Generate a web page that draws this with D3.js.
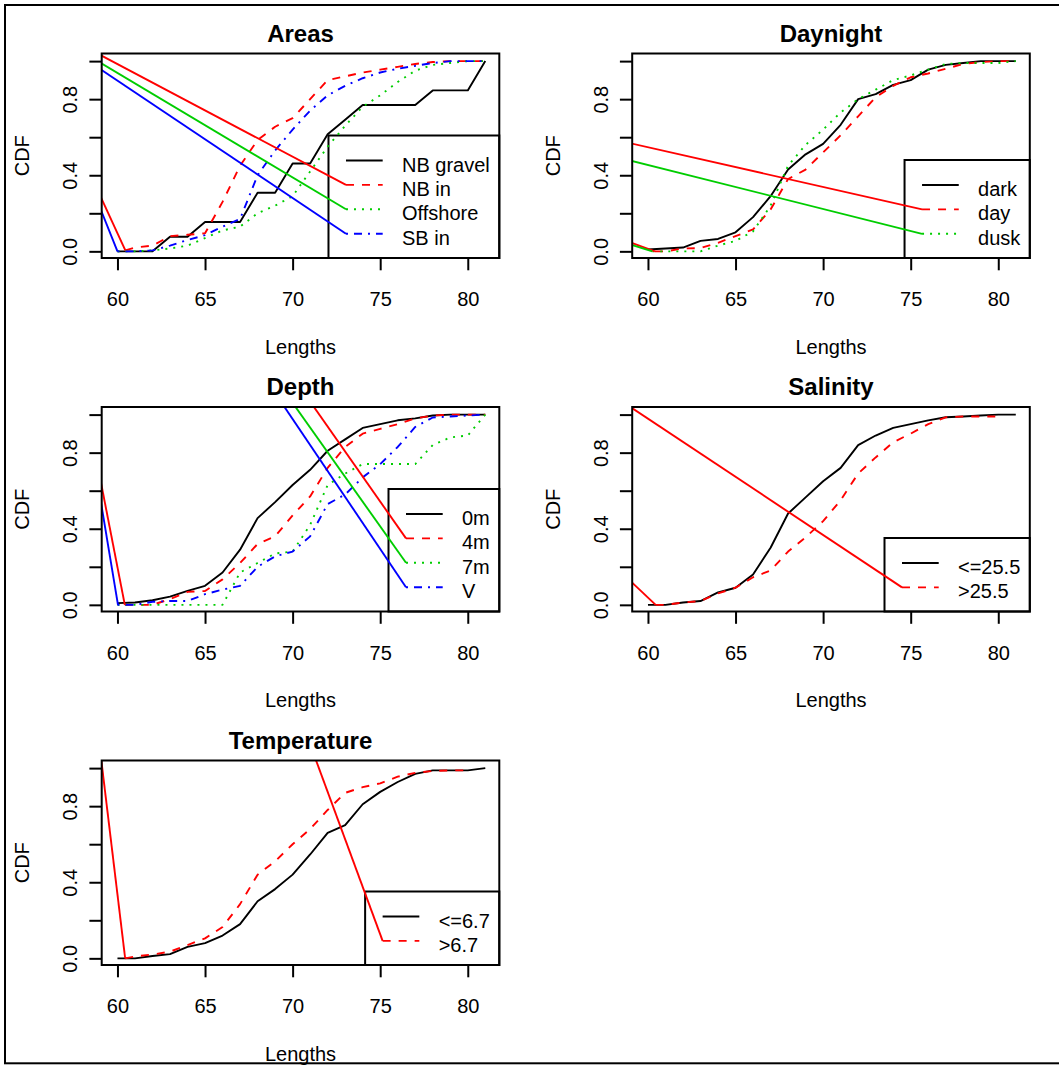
<!DOCTYPE html>
<html>
<head>
<meta charset="utf-8">
<script src="https://cdn.jsdelivr.net/npm/d3@7"></script>
<style>
  body { margin: 0; background: #fff; }
  svg { display: block; font-family: "Liberation Sans", Arial, Helvetica, sans-serif; }
</style>
</head>
<body>
<svg id="chart" width="1059" height="1068"></svg>
<script>
// lengths at which every CDF is evaluated
var lengths = [60, 61, 62, 63, 64, 65, 66, 67, 68, 69, 70, 71, 72, 73, 74, 75, 76, 77, 78, 79, 80, 81];
var xTicks = [60, 65, 70, 75, 80];
var xTickLabels = ["60", "65", "70", "75", "80"];
var yTicks = [0, 0.2, 0.4, 0.6, 0.8, 1];
var yTickLabels = ["0.0", "", "0.4", "", "0.8", ""];

// Areas
var areasNames = ["NB gravel", "NB in", "Offshore", "SB in"];
var areasNBgravel = [0, 0, 0, 0.077, 0.077, 0.154, 0.154, 0.154, 0.308, 0.308, 0.462, 0.462, 0.615, 0.692, 0.769, 0.769, 0.769, 0.769, 0.846, 0.846, 0.846, 1.0];
var areasNBin = [null, 0.02, 0.03, 0.08, 0.087, 0.095, 0.26, 0.45, 0.585, 0.655, 0.70, 0.80, 0.90, 0.92, 0.94, 0.955, 0.97, 0.985, 0.995, 1.0, 1.0, 1.0];
var areasOffshore = [0, 0, 0.005, 0.015, 0.03, 0.07, 0.11, 0.13, 0.2, 0.24, 0.29, 0.42, 0.55, 0.66, 0.76, 0.82, 0.89, 0.95, 0.98, 0.99, 1.0, 1.0];
var areasSBin = [0, 0, 0.005, 0.03, 0.06, 0.085, 0.13, 0.17, 0.4, 0.53, 0.64, 0.74, 0.82, 0.87, 0.91, 0.94, 0.96, 0.975, 0.99, 1.0, 1.0, 1.0];
var areasStarts = [null, [60.45, 0.005], null, null];

// Daynight
var daynightNames = ["dark", "day", "dusk"];
var daynightDark = [0.01, 0.015, 0.02, 0.055, 0.065, 0.1, 0.18, 0.29, 0.43, 0.51, 0.565, 0.665, 0.8, 0.826, 0.875, 0.9, 0.955, 0.98, 0.99, 1.0, 1.0, 1.0];
var daynightDay = [null, 0, 0.015, 0.017, 0.045, 0.08, 0.115, 0.22, 0.38, 0.43, 0.52, 0.61, 0.71, 0.81, 0.87, 0.915, 0.935, 0.96, 0.985, 0.995, 1.0, 1.0];
var daynightDusk = [null, 0, 0, 0, 0.03, 0.055, 0.105, 0.24, 0.45, 0.56, 0.64, 0.73, 0.8, 0.85, 0.9, 0.925, 0.955, 0.985, 0.99, 0.99, 0.99, 1.0];
var daynightStarts = [null, [60.4, 0], [60.25, 0]];

// Depth
var depthNames = ["0m", "4m", "7m", "V"];
var depth0m = [0.009, 0.012, 0.024, 0.043, 0.073, 0.1, 0.17, 0.29, 0.456, 0.54, 0.63, 0.71, 0.81, 0.87, 0.93, 0.95, 0.97, 0.98, 0.995, 1.0, 1.0, 1.0];
var depth4m = [null, 0, 0, 0.03, 0.068, 0.073, 0.134, 0.22, 0.32, 0.36, 0.47, 0.57, 0.72, 0.83, 0.9, 0.925, 0.95, 0.98, 0.995, 1.0, 1.0, 1.0];
var depth7m = [0, 0, 0, 0, 0, 0, 0, 0.17, 0.22, 0.27, 0.28, 0.42, 0.63, 0.69, 0.74, 0.74, 0.74, 0.74, 0.84, 0.88, 0.89, 1.0];
var depthV = [0, 0, 0.016, 0.02, 0.02, 0.056, 0.08, 0.1, 0.2, 0.255, 0.28, 0.36, 0.53, 0.58, 0.67, 0.74, 0.83, 0.935, 0.985, 0.99, 0.995, 1.0];
var depthStarts = [null, [60.42, 0], null, null];

// Salinity
var salinityNames = ["<=25.5", ">25.5"];
var salinityLow = [0, 0, 0.012, 0.02, 0.065, 0.09, 0.16, 0.3, 0.48, 0.565, 0.65, 0.72, 0.84, 0.89, 0.93, 0.95, 0.97, 0.986, 0.99, 0.995, 1.0, 1.0];
var salinityHigh = [null, 0, 0.012, 0.02, 0.06, 0.09, 0.145, 0.18, 0.28, 0.355, 0.44, 0.55, 0.69, 0.775, 0.855, 0.9, 0.95, 0.986, 0.99, 0.99, 0.99, null];
var salinityStarts = [null, [60.44, 0]];

// Temperature
var temperatureNames = ["<=6.7", ">6.7"];
var temperatureLow = [0, 0, 0.012, 0.022, 0.06, 0.08, 0.12, 0.18, 0.3, 0.364, 0.44, 0.546, 0.66, 0.7, 0.81, 0.875, 0.927, 0.97, 0.988, 0.988, 0.988, 1.0];
var temperatureHigh = [null, 0.01, 0.02, 0.035, 0.07, 0.105, 0.165, 0.285, 0.44, 0.51, 0.6, 0.68, 0.78, 0.87, 0.9, 0.92, 0.955, 0.975, 0.985, 0.988, 0.988, null];
var temperatureStarts = [null, [60.44, 0]];

// stray straight segments left in the picture by the renderer:
// [series index, from point, to point]; "key" = the legend sample of that series
var areasStrays = [[1, [59.0, 1.033], "key"], [2, [59.0, 0.993], "key"], [3, [59.0, 0.959], "key"],
                   [1, [59.0, 0.295], [60.45, 0.005]], [3, [59.0, 0.23], [60.0, 0]]];
var daynightStrays = [[1, [59.0, 0.568], "key"], [2, [59.0, 0.477], "key"],
                      [1, [59.0, 0.047], [60.4, 0]], [2, [59.0, 0.036], [60.25, 0]]];
var depthStrays = [[1, [71.18, 1.045], "key"], [2, [70.13, 1.045], "key"], [3, [69.5, 1.045], "key"],
                   [1, [59.0, 0.67], [60.42, 0]], [3, [59.0, 0.57], [60.03, 0]]];
var salinityStrays = [[1, [59.0, 1.04], "key"], [1, [59.0, 0.125], [60.44, 0]]];
var temperatureStrays = [[1, [71.32, 1.045], "key"], [1, [59.0, 1.1], [60.44, 0]]];

var styles = [
  { color: "#000000", dash: null },
  { color: "#FF0000", dash: "8,8" },
  { color: "#00CD00", dash: "2,6" },
  { color: "#0000FF", dash: "2,6,8,6" }
];

var panels = [
  { title: "Areas", col: 0, row: 0, names: areasNames, starts: areasStarts,
    values: [areasNBgravel, areasNBin, areasOffshore, areasSBin], strays: areasStrays },
  { title: "Daynight", col: 1, row: 0, names: daynightNames, starts: daynightStarts,
    values: [daynightDark, daynightDay, daynightDusk], strays: daynightStrays },
  { title: "Depth", col: 0, row: 1, names: depthNames, starts: depthStarts,
    values: [depth0m, depth4m, depth7m, depthV], strays: depthStrays },
  { title: "Salinity", col: 1, row: 1, names: salinityNames, starts: salinityStarts,
    values: [salinityLow, salinityHigh], strays: salinityStrays },
  { title: "Temperature", col: 0, row: 2, names: temperatureNames, starts: temperatureStarts,
    values: [temperatureLow, temperatureHigh], strays: temperatureStrays }
];

var svg = d3.select("#chart");
var colLeft = [101.7, 632.2];
var rowTop = [53.5, 407, 760.5];
var boxW = 397.6, boxH = 204.5;
var xDomain = [59.1, 81.8], yDomain = [-0.035, 1.04];
var lineW = 1.9;
var rowStep = 24.4;

var line = d3.line();

panels.forEach(function(p, pi) {
  var left = colLeft[p.col], top = rowTop[p.row];
  var right = left + boxW, bottom = top + boxH;
  var x = d3.scaleLinear().domain(xDomain).range([left, right]);
  var y = d3.scaleLinear().domain(yDomain).range([bottom, top]);
  var g = svg.append("g");

  var clipId = "clip" + pi;
  svg.append("clipPath").attr("id", clipId)
    .append("rect").attr("x", left).attr("y", top).attr("width", boxW).attr("height", boxH);

  // legend first, so the stray lines can reach its keys
  var lg = g.append("g");
  var n = p.names.length;
  var legTop = bottom - (n + 1) * 24.5;
  var keyY = function(i) { return legTop + 25 + rowStep * i; };
  var texts = lg.selectAll("text.leg").data(p.names).enter().append("text")
    .attr("class", "leg")
    .attr("y", function(d, i) { return keyY(i) + 11; })
    .attr("font-size", 20)
    .text(function(d) { return d; });
  var maxW = 0;
  texts.each(function() { maxW = Math.max(maxW, this.getComputedTextLength()); });
  var legLeft = right - (83 + maxW);
  texts.attr("x", legLeft + 73.5);
  lg.append("rect")
    .attr("x", legLeft).attr("y", legTop)
    .attr("width", right - legLeft).attr("height", bottom - legTop)
    .attr("fill", "none").attr("stroke", "#000").attr("stroke-width", 2);
  var keyX = legLeft + 17.5;
  p.names.forEach(function(name, i) {
    lg.append("line")
      .attr("x1", keyX).attr("x2", keyX + 36.7)
      .attr("y1", keyY(i)).attr("y2", keyY(i))
      .attr("stroke", styles[i].color).attr("stroke-width", lineW)
      .attr("stroke-dasharray", styles[i].dash);
  });

  var plot = g.append("g").attr("clip-path", "url(#" + clipId + ")");

  // CDF curves
  p.values.forEach(function(vals, i) {
    var pts = lengths.map(function(l, k) { return [l, vals[k]]; });
    if (p.starts[i]) pts.unshift(p.starts[i]);
    pts = pts.filter(function(d) { return d[1] !== null; });
    plot.append("path")
      .attr("d", line(pts.map(function(d) { return [x(d[0]), y(d[1])]; })))
      .attr("fill", "none")
      .attr("stroke", styles[i].color).attr("stroke-width", lineW)
      .attr("stroke-linejoin", "round")
      .attr("stroke-dasharray", styles[i].dash);
  });

  // stray solid segments
  p.strays.forEach(function(s) {
    var i = s[0];
    var a = [x(s[1][0]), y(s[1][1])];
    var b = s[2] === "key" ? [keyX, keyY(i)] : [x(s[2][0]), y(s[2][1])];
    plot.append("path")
      .attr("d", line([a, b]))
      .attr("fill", "none")
      .attr("stroke", styles[i].color).attr("stroke-width", lineW);
  });

  // plot box
  g.append("rect")
    .attr("x", left).attr("y", top).attr("width", boxW).attr("height", boxH)
    .attr("fill", "none").attr("stroke", "#000").attr("stroke-width", 2);

  // x axis
  var xa = g.append("g").attr("transform", "translate(0," + bottom + ")")
    .call(d3.axisBottom(x).tickValues(xTicks).tickSize(12.3).tickSizeOuter(0)
      .tickFormat(function(d, i) { return xTickLabels[i]; }));
  xa.select(".domain").remove();
  xa.selectAll(".tick line").attr("stroke", "#000").attr("stroke-width", 2);
  xa.selectAll(".tick text").attr("font-size", 20).attr("font-family", null)
    .attr("fill", "#000").attr("y", 48).attr("dy", null);

  // y axis
  var ya = g.append("g").attr("transform", "translate(" + left + ",0)")
    .call(d3.axisLeft(y).tickValues(yTicks).tickSize(12.3).tickSizeOuter(0)
      .tickFormat(function(d, i) { return yTickLabels[i]; }));
  ya.select(".domain").remove();
  ya.selectAll(".tick line").attr("stroke", "#000").attr("stroke-width", 2);
  ya.selectAll(".tick text").attr("font-size", 20).attr("font-family", null)
    .attr("fill", "#000").attr("x", null).attr("dy", null)
    .attr("text-anchor", "middle")
    .attr("transform", "translate(-24.4,0) rotate(-90)");

  // titles
  g.append("text")
    .attr("x", (left + right) / 2).attr("y", top - 12)
    .attr("text-anchor", "middle").attr("font-size", 24).attr("font-weight", "bold")
    .text(p.title);
  g.append("text")
    .attr("x", (left + right) / 2).attr("y", bottom + 95.5)
    .attr("text-anchor", "middle").attr("font-size", 20)
    .text("Lengths");
  g.append("text")
    .attr("transform", "translate(" + (left - 72.4) + "," + ((top + bottom) / 2) + ") rotate(-90)")
    .attr("text-anchor", "middle").attr("font-size", 20)
    .text("CDF");
});

// outer frame
svg.append("rect")
  .attr("x", 5).attr("y", 5)
  .attr("width", 1062).attr("height", 1058.3)
  .attr("fill", "none").attr("stroke", "#000").attr("stroke-width", 2);
</script>
</body>
</html>
